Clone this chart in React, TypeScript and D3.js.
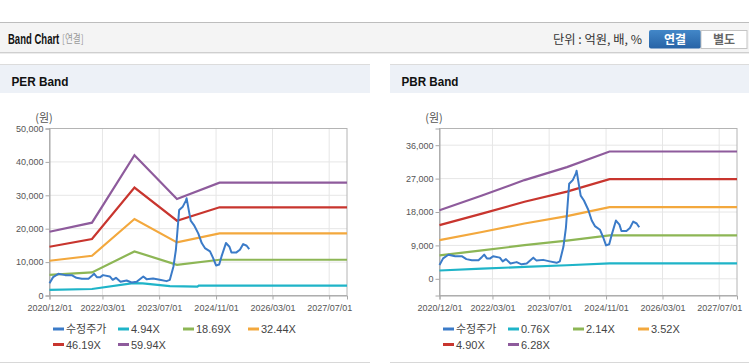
import React, { useEffect, useRef } from 'react'
import * as d3 from 'd3'

const parse = d3.timeParse('%Y-%m-%d')
const parseTick = d3.timeParse('%Y/%m/%d')

// 수정주가 (same series in both charts)
const priceDates = [
  '2020-12-01', '2021-01-01', '2021-02-15', '2021-04-15', '2021-06-10', '2021-07-20',
  '2021-09-05', '2021-11-01', '2021-12-01', '2021-12-20', '2022-01-12', '2022-02-10',
  '2022-03-06', '2022-05-03', '2022-05-28', '2022-06-25', '2022-08-03', '2022-09-25',
  '2022-11-06', '2022-12-20', '2023-02-15', '2023-03-15', '2023-05-10', '2023-07-06',
  '2023-09-03', '2023-10-01', '2023-11-01', '2023-11-22', '2023-12-20', '2024-01-20',
  '2024-02-16', '2024-02-22', '2024-03-28', '2024-04-25', '2024-06-01', '2024-07-01',
  '2024-07-28', '2024-09-10', '2024-10-07', '2024-11-01', '2024-11-28', '2024-12-18',
  '2025-01-25', '2025-02-24', '2025-03-13', '2025-04-25', '2025-05-25', '2025-06-22',
  '2025-07-22', '2025-08-13',
]
const priceValues = [
  3700, 5500, 6480, 6100, 6100, 5300,
  5000, 5000, 5900, 6500, 5500, 5500,
  6100, 5700, 4700, 5300, 4100, 4500,
  3900, 4100, 5700, 4900, 5100, 4700,
  4300, 4700, 8700, 13700, 25600, 26600,
  28400, 29100, 22400, 21100, 18600, 15700,
  14200, 13200, 11200, 9000, 9300, 11700,
  15700, 14600, 12900, 12900, 13700, 15400,
  14900, 13900,
]

const bandDates = ['2020-12-01', '2021-12-01', '2022-12-01', '2023-12-01', '2024-12-01', '2027-12-01']

// PER band
const perLabels = ['4.94X', '18.69X', '32.44X', '46.19X', '59.94X']
const perLowDates = ['2020-12-01', '2021-12-01', '2022-11-20', '2023-02-10', '2023-10-01', '2024-05-25', '2024-06-05', '2027-12-01']
const perLow = [1700, 1950, 3700, 3650, 2800, 2650, 2950, 2950]
const per2 = [6200, 6900, 13200, 9200, 10700, 10700]
const per3 = [10400, 11900, 22900, 15900, 18600, 18600]
const per4 = [14600, 16900, 32300, 22400, 26400, 26400]
const per5 = [19100, 21800, 42000, 28900, 33800, 33800]
const perTicks = [0, 10000, 20000, 30000, 40000, 50000]

// PBR band
const pbrLabels = ['0.76X', '2.14X', '3.52X', '4.90X', '6.28X']
const pbr1 = [2240, 2720, 3220, 3650, 4150, 4150]
const pbr2 = [6300, 7650, 9050, 10270, 11700, 11700]
const pbr3 = [10400, 12600, 14900, 16900, 19300, 19300]
const pbr4 = [14450, 17550, 20750, 23500, 26850, 26850]
const pbr5 = [18450, 22450, 26600, 30100, 34300, 34300]
const pbrTicks = [0, 9000, 18000, 27000, 36000]

const xTickLabels = ['2020/12/01', '2022/03/01', '2023/07/01', '2024/11/01', '2026/03/01', '2027/07/01']

const priceColor = '#3b7bc8'
const bandColors = ['#1fb4c8', '#8db655', '#f3a83d', '#c8352e', '#8e5b9c']
const font = "'Liberation Sans', Arial, 'Noto Sans CJK KR', sans-serif"
const krFont = "'Noto Sans CJK KR', 'Liberation Sans', sans-serif"

const plot = { left: 49.5, right: 347, top: 128.5, bottom: 295.5 }

type Series = { dates: string[]; values: number[]; color: string }

function drawBand(node: SVGGElement, yDomain: [number, number], yTicks: number[], bands: Series[], labels: string[]) {
  const g = d3.select(node)
  g.selectAll('*').remove()

  const x = d3
    .scaleTime()
    .domain([parse('2020-12-01')!, parse('2027-12-01')!])
    .range([plot.left, plot.right])
  const y = d3.scaleLinear().domain(yDomain).range([plot.bottom, plot.top])
  const xTicks = xTickLabels.map((d) => parseTick(d)!)

  // grid
  g.append('g')
    .selectAll('line')
    .data(yTicks)
    .join('line')
    .attr('x1', plot.left)
    .attr('x2', plot.right)
    .attr('y1', (d) => y(d))
    .attr('y2', (d) => y(d))
    .attr('stroke', '#e6e6e6')
  g.append('g')
    .selectAll('line')
    .data(xTicks)
    .join('line')
    .attr('x1', (d) => x(d))
    .attr('x2', (d) => x(d))
    .attr('y1', plot.top)
    .attr('y2', plot.bottom)
    .attr('stroke', '#e6e6e6')

  g.append('rect')
    .attr('x', plot.left)
    .attr('y', plot.top)
    .attr('width', plot.right - plot.left)
    .attr('height', plot.bottom - plot.top)
    .attr('fill', 'none')
    .attr('stroke', '#b4b4b4')

  // axes
  const yAxis = g
    .append('g')
    .attr('transform', `translate(${plot.left},0)`)
    .call(d3.axisLeft(y).tickValues(yTicks).tickFormat(d3.format(',')).tickSize(4).tickPadding(2))
  const xAxis = g
    .append('g')
    .attr('transform', `translate(0,${plot.bottom})`)
    .call(
      d3
        .axisBottom(x)
        .tickValues(xTicks)
        .tickFormat((d) => d3.timeFormat('%Y/%m/%d')(d as Date))
        .tickSize(4)
        .tickPadding(5)
    )
  for (const a of [yAxis, xAxis]) {
    a.select('.domain').attr('stroke', '#a8a8a8')
    a.selectAll('.tick line').attr('stroke', '#a8a8a8')
    a.selectAll('.tick text').attr('fill', '#555').attr('font-size', 9).attr('font-family', font)
  }

  g.append('text')
    .attr('x', 44)
    .attr('y', 122)
    .attr('text-anchor', 'middle')
    .attr('font-size', 11)
    .attr('font-family', krFont)
    .attr('fill', '#555')
    .text('(원)')

  const line = d3
    .line<[Date, number]>()
    .x((d) => x(d[0]))
    .y((d) => y(d[1]))

  bands.forEach((b) => {
    g.append('path')
      .datum(b.dates.map((d, i) => [parse(d)!, b.values[i]] as [Date, number]))
      .attr('d', line)
      .attr('fill', 'none')
      .attr('stroke', b.color)
      .attr('stroke-width', 2.2)
  })

  g.append('path')
    .datum(priceDates.map((d, i) => [parse(d)!, priceValues[i]] as [Date, number]))
    .attr('d', line)
    .attr('fill', 'none')
    .attr('stroke', priceColor)
    .attr('stroke-width', 2)
    .attr('stroke-linejoin', 'round')

  // legend
  const items = [{ label: '수정주가', color: priceColor }].concat(
    labels.map((l, i) => ({ label: l, color: bandColors[i] }))
  )
  const leg = g
    .append('g')
    .selectAll('g')
    .data(items)
    .join('g')
    .attr('transform', (_, i) => `translate(${53 + (i % 4) * 65},${329 + Math.floor(i / 4) * 15.5})`)
  leg.append('line').attr('x1', 0).attr('x2', 11).attr('stroke', (d) => d.color).attr('stroke-width', 3)
  leg
    .append('text')
    .attr('x', 13)
    .attr('y', 4)
    .attr('font-size', 11)
    .attr('font-family', font)
    .attr('fill', '#444')
    .text((d) => d.label)
}

export default function App() {
  const perRef = useRef<SVGGElement>(null)
  const pbrRef = useRef<SVGGElement>(null)

  useEffect(() => {
    drawBand(
      perRef.current!,
      [0, 50000],
      perTicks,
      [
        { dates: perLowDates, values: perLow, color: bandColors[0] },
        { dates: bandDates, values: per2, color: bandColors[1] },
        { dates: bandDates, values: per3, color: bandColors[2] },
        { dates: bandDates, values: per4, color: bandColors[3] },
        { dates: bandDates, values: per5, color: bandColors[4] },
      ],
      perLabels
    )
    drawBand(
      pbrRef.current!,
      [-4500, 40500],
      pbrTicks,
      [pbr1, pbr2, pbr3, pbr4, pbr5].map((v, i) => ({ dates: bandDates, values: v, color: bandColors[i] })),
      pbrLabels
    )
  }, [])

  return (
    <svg width={749} height={364} style={{ position: 'absolute', left: 0, top: 0 }}>
      <defs>
        <linearGradient id="btn" x1="0" y1="0" x2="0" y2="1">
          <stop offset="0" stopColor="#4287c8" />
          <stop offset="1" stopColor="#2763a6" />
        </linearGradient>
      </defs>
      <rect width={749} height={364} fill="#fff" />

      {/* top bar */}
      <rect x={0} y={22} width={749} height={31} fill="#f4f4f4" />
      <line x1={0} x2={749} y1={22.5} y2={22.5} stroke="#bdbdbd" />
      <line x1={0} x2={749} y1={52.5} y2={52.5} stroke="#cfcfcf" />
      <line x1={0} x2={749} y1={53.5} y2={53.5} stroke="#ececec" />
      <text transform="translate(8,43.5) scale(0.68,1)" fontSize={14} fontWeight="bold" fontFamily={font} fill="#111">
        Band Chart
      </text>
      <text transform="translate(62,43) scale(0.78,1)" fontSize={11} fontFamily={krFont} fill="#999">
        [연결]
      </text>
      <text x={553} y={43.5} fontSize={12} fontFamily={krFont} fill="#333" textLength={89} lengthAdjust="spacingAndGlyphs">
        단위 : 억원, 배, %
      </text>
      <rect x={649} y={30} width={52} height={18.5} rx={2} fill="url(#btn)" />
      <text x={675} y={43.5} fontSize={12} fontWeight="bold" fontFamily={krFont} fill="#fff" textAnchor="middle">
        연결
      </text>
      <rect x={701} y={30.5} width={46} height={18} fill="#fff" stroke="#c4c4c4" />
      <text x={724} y={43.5} fontSize={12} fontWeight="bold" fontFamily={krFont} fill="#666" textAnchor="middle">
        별도
      </text>

      {/* panels */}
      {[
        { x0: 0, title: 'PER Band', ref: perRef },
        { x0: 390, title: 'PBR Band', ref: pbrRef },
      ].map((p) => (
        <g key={p.title} transform={`translate(${p.x0},0)`}>
          <rect x={0} y={64} width={370} height={29} fill="#edf1f7" />
          <line x1={0} x2={370} y1={64.5} y2={64.5} stroke="#dcdcdc" />
          <line x1={0} x2={370} y1={362.5} y2={362.5} stroke="#d8d8d8" />
          <text x={11.5} y={85.5} fontSize={13.5} fontWeight="bold" fontFamily={font} fill="#111" textLength={57} lengthAdjust="spacingAndGlyphs">
            {p.title}
          </text>
          <g ref={p.ref} />
        </g>
      ))}
    </svg>
  )
}
